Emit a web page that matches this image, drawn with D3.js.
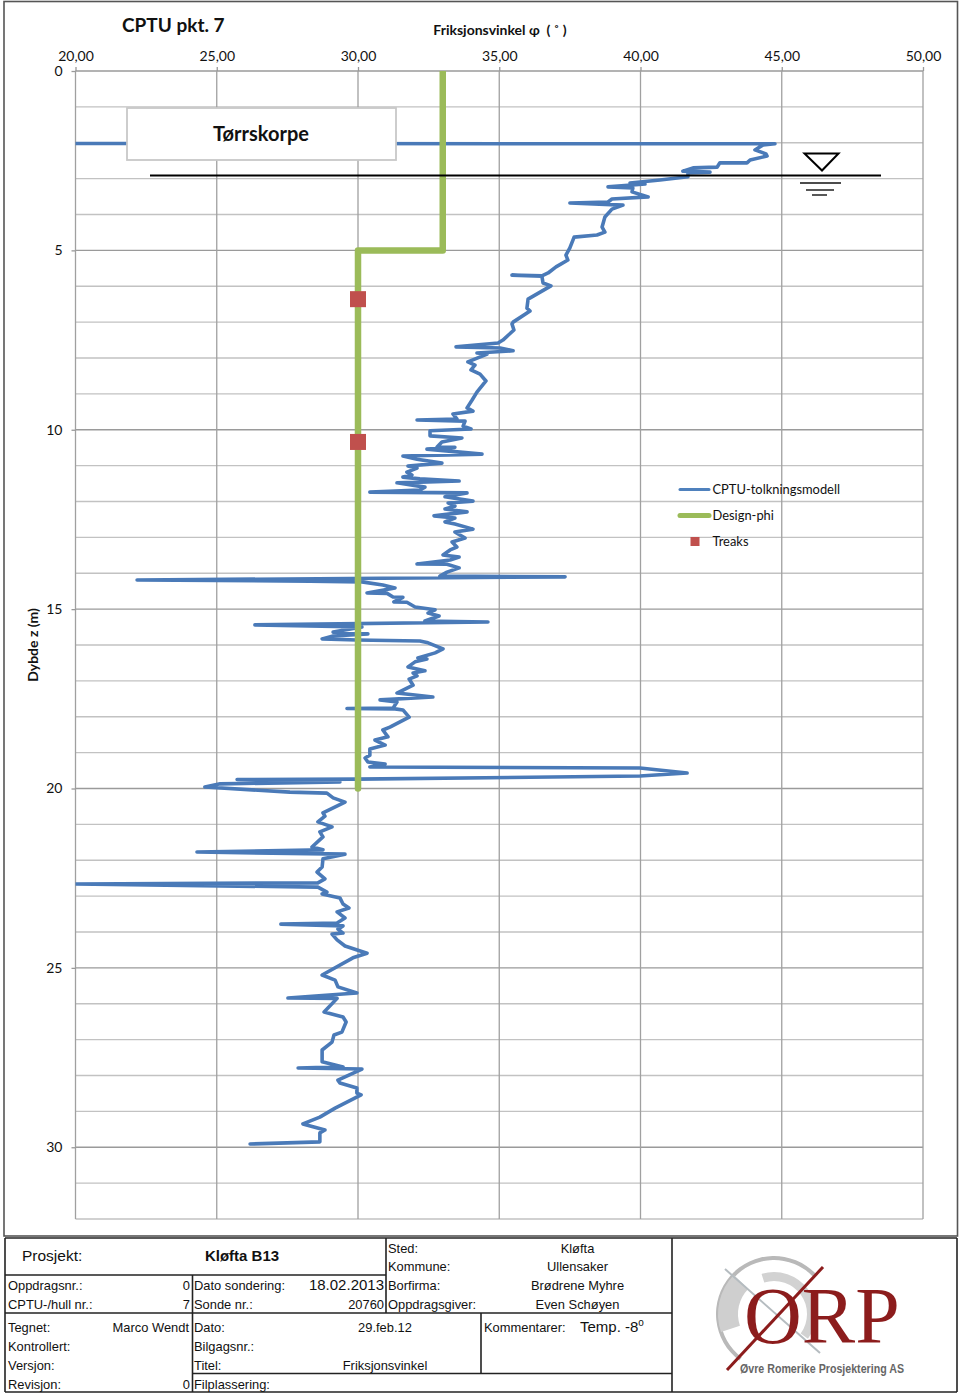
<!DOCTYPE html>
<html><head><meta charset="utf-8">
<script src="https://cdn.jsdelivr.net/npm/d3@7"></script>
<style>html,body{margin:0;padding:0;background:#fff}svg{display:block}</style>
</head><body><div id="c"></div>
<script>
const phiTicks=[20,25,30,35,40,45,50];
const depthTicks=[0,5,10,15,20,25,30];
const depthGrid=[0,1,2,3,4,5,6,7,8,9,10,11,12,13,14,15,16,17,18,19,20,21,22,23,24,25,26,27,28,29,30,31,32];
const cptuPhi=[20.00,44.76,44.34,44.05,44.44,44.48,43.88,43.77,42.81,42.71,41.86,41.50,42.46,41.68,41.68,40.69,39.63,40.16,38.85,39.73,39.70,40.27,38.99,38.85,37.50,39.38,38.99,38.74,38.64,38.74,38.46,37.65,37.50,37.36,37.43,37.01,36.73,36.51,35.45,36.51,36.55,36.83,36.02,35.98,36.09,35.49,35.45,35.52,35.13,34.96,33.47,35.03,35.49,34.21,34.57,33.89,34.14,34.00,34.32,34.53,34.21,34.04,33.86,34.07,33.36,33.50,32.09,33.79,33.72,34.00,32.55,32.55,33.68,32.97,32.80,33.43,32.44,34.39,31.59,32.09,32.97,31.77,32.09,31.73,31.91,31.59,32.19,33.58,31.38,32.37,32.19,30.42,33.86,33.08,34.07,33.19,33.43,33.08,33.86,32.69,33.43,33.08,33.43,34.07,33.43,33.79,33.33,33.50,33.26,33.01,33.58,33.26,32.09,33.15,33.58,33.15,32.90,37.33,22.18,28.30,30.14,30.88,31.31,30.32,31.03,31.24,31.59,31.27,31.73,32.02,32.73,32.48,32.87,32.37,34.60,26.35,30.14,29.12,30.35,29.12,28.73,29.96,32.19,32.48,33.01,32.73,32.12,32.44,32.02,31.77,32.37,31.95,32.09,31.81,31.95,31.38,32.65,30.78,31.38,31.24,29.61,31.31,31.59,31.81,31.13,30.88,31.06,30.60,30.96,30.42,30.42,30.25,30.35,30.96,30.42,39.98,41.65,39.98,29.96,25.72,29.36,25.12,24.58,27.59,28.90,29.12,29.54,28.76,28.83,28.58,29.08,28.65,28.76,28.37,28.76,24.30,29.54,28.76,28.73,28.55,28.83,28.58,20.00,28.58,28.90,28.73,29.36,29.47,29.68,29.26,29.54,29.26,27.27,29.47,29.29,29.47,29.08,29.26,29.54,30.32,29.82,28.73,29.19,29.29,29.96,27.52,29.26,28.80,29.47,29.58,29.43,29.15,29.08,28.73,28.73,29.47,27.88,30.14,29.29,29.36,29.96,29.96,30.11,29.19,28.65,28.05,28.83,28.65,28.65,26.18];
const cptuDepth=[2.02,2.03,2.06,2.20,2.31,2.37,2.48,2.56,2.56,2.68,2.70,2.79,2.82,2.84,2.95,3.04,3.12,3.15,3.23,3.26,3.37,3.51,3.57,3.65,3.68,3.74,3.85,4.07,4.35,4.49,4.57,4.63,4.93,5.13,5.27,5.46,5.63,5.71,5.69,5.72,5.91,5.99,6.36,6.61,6.69,7.00,7.05,7.22,7.50,7.58,7.69,7.72,7.80,7.86,7.89,8.11,8.20,8.33,8.45,8.64,8.95,9.17,9.39,9.48,9.56,9.70,9.73,9.76,9.90,9.98,10.03,10.17,10.23,10.34,10.48,10.49,10.54,10.68,10.73,10.82,10.93,11.01,11.07,11.18,11.26,11.32,11.37,11.43,11.48,11.60,11.68,11.74,11.76,11.87,11.99,12.04,12.13,12.21,12.29,12.40,12.46,12.57,12.63,12.77,12.85,13.02,13.13,13.27,13.35,13.49,13.55,13.63,13.74,13.75,13.85,13.97,14.08,14.10,14.19,14.22,14.24,14.33,14.41,14.55,14.56,14.66,14.67,14.80,14.81,14.94,15.02,15.11,15.19,15.33,15.36,15.44,15.50,15.64,15.69,15.75,15.83,15.86,15.89,15.94,16.11,16.22,16.36,16.39,16.47,16.61,16.72,16.78,16.86,16.95,17.12,17.34,17.45,17.53,17.59,17.76,17.77,17.78,17.81,18.01,18.29,18.37,18.56,18.65,18.79,18.90,19.07,19.15,19.26,19.32,19.40,19.43,19.57,19.65,19.74,19.75,19.82,19.87,19.96,20.10,20.13,20.26,20.38,20.68,20.77,20.93,21.07,21.21,21.35,21.63,21.71,21.77,21.83,21.96,22.19,22.33,22.52,22.63,22.66,22.75,22.89,22.94,23.05,23.22,23.33,23.44,23.61,23.75,23.78,23.83,23.92,24.03,24.06,24.22,24.39,24.59,24.72,25.20,25.34,25.53,25.70,25.84,25.85,26.23,26.37,26.51,26.79,26.87,27.07,27.29,27.62,27.76,27.79,27.82,28.13,28.21,28.35,28.49,28.54,28.91,29.16,29.35,29.52,29.60,29.85,29.91];
const designPhi=[33,33,30,30];
const designDepth=[0,5,5,20];
const treaksPhi=[30,30];
const treaksDepth=[6.36,10.34];
const legendLabels=["CPTU-tolkningsmodell","Design-phi","Treaks"];
const chartTitle="CPTU pkt. 7", xTitle="Friksjonsvinkel φ  ( ˚ )", yTitle="Dybde z (m)", zoneLabel="Tørrskorpe";

const W=960,H=1395;
const svg=d3.select("#c").append("svg").attr("width",W).attr("height",H).attr("viewBox",`0 0 ${W} ${H}`);
const x=d3.scaleLinear().domain([20,50]).range([75.5,923]);
const y=d3.scaleLinear().domain([0,32]).range([71,1219]);
const sans="Lato, 'Open Sans', sans-serif", arial="'Liberation Sans', Arial, sans-serif";

svg.append("defs").append("clipPath").attr("id","plot").append("rect").attr("x",x(20)).attr("y",y(0)).attr("width",x(50)-x(20)).attr("height",y(32)-y(0));

svg.append("rect").attr("x",4).attr("y",1.5).attr("width",953.5).attr("height",1234.5).attr("fill","#fff").attr("stroke","#555").attr("stroke-width",1.6);

// grid
svg.append("g").selectAll("line").data(depthGrid).join("line")
 .attr("x1",x(20)).attr("x2",x(50)).attr("y1",d=>y(d)).attr("y2",d=>y(d))
 .attr("stroke",d=>d%5===0?"#9a9a9a":"#c2c2c2").attr("stroke-width",1.4);
svg.append("g").selectAll("line").data(phiTicks).join("line")
 .attr("x1",d=>x(d)).attr("x2",d=>x(d)).attr("y1",y(0)).attr("y2",y(32))
 .attr("stroke","#a0a0a0").attr("stroke-width",1.3);

// axes
const fmt=d=>d3.format(".2f")(d).replace(".",",");
const gx=svg.append("g").attr("transform",`translate(0,${y(0)})`).call(d3.axisTop(x).tickValues(phiTicks).tickFormat(fmt).tickSize(4).tickPadding(6));
const gy=svg.append("g").attr("transform",`translate(${x(20)},0)`).call(d3.axisLeft(y).tickValues(depthTicks).tickFormat(d=>d).tickSize(4).tickPadding(9));
[gx,gy].forEach(g=>{g.select(".domain").remove();g.selectAll(".tick line").attr("stroke","#999").attr("stroke-width",1.3);
 g.selectAll("text").attr("font-family",sans).attr("font-size",14).attr("fill","#111");});

// series
const line=d3.line().x(d=>x(d[0])).y(d=>y(d[1]));
svg.append("path").attr("clip-path","url(#plot)").attr("d",line(d3.zip(cptuPhi,cptuDepth))).attr("fill","none").attr("stroke","#4a7ab8").attr("stroke-width",3.6).attr("stroke-linejoin","round").attr("stroke-linecap","round");
svg.append("path").attr("clip-path","url(#plot)").attr("d",line(d3.zip(designPhi,designDepth))).attr("fill","none").attr("stroke","#9bbb59").attr("stroke-width",6.5).attr("stroke-linejoin","round").attr("stroke-linecap","round");
svg.append("g").selectAll("rect").data(d3.zip(treaksPhi,treaksDepth)).join("rect")
 .attr("x",d=>x(d[0])-8).attr("y",d=>y(d[1])-8).attr("width",16).attr("height",16).attr("fill","#c0504d");

// zone box
svg.append("rect").attr("x",127).attr("y",108).attr("width",269).attr("height",52).attr("fill","#fff").attr("stroke","#c8c8c8").attr("stroke-width",1.8);
svg.append("text").attr("x",261).attr("y",141).attr("text-anchor","middle").attr("font-family",sans).attr("font-weight",700).attr("font-size",20).attr("fill","#111").text(zoneLabel);

// water table symbol
svg.append("line").attr("x1",150).attr("x2",881).attr("y1",175.5).attr("y2",175.5).attr("stroke","#000").attr("stroke-width",2.2);
svg.append("path").attr("d","M804.5,153.5H838.5L822,170.5Z").attr("fill","#fff").attr("stroke","#000").attr("stroke-width",2);
[[800,841,183],[806,834,190],[812,827,195]].forEach(a=>svg.append("line").attr("x1",a[0]).attr("x2",a[1]).attr("y1",a[2]).attr("y2",a[2]).attr("stroke","#111").attr("stroke-width",1.4));

// titles
svg.append("text").attr("x",122).attr("y",32).attr("font-family",sans).attr("font-weight",700).attr("font-size",19).attr("fill","#111").text(chartTitle);
svg.append("text").attr("x",500).attr("y",35).attr("text-anchor","middle").attr("font-family",sans).attr("font-weight",700).attr("font-size",14).attr("fill","#111").attr("xml:space","preserve").text(xTitle);
svg.append("text").attr("transform","translate(38,645) rotate(-90)").attr("text-anchor","middle").attr("font-family",sans).attr("font-weight",700).attr("font-size",14).attr("fill","#111").text(yTitle);

// legend
const legY=[489,515,541];
legendLabels.forEach((t,i)=>svg.append("text").attr("x",712.5).attr("y",legY[i]+5).attr("font-family",sans).attr("font-size",12.9).attr("fill","#111").text(t));
svg.append("line").attr("x1",680).attr("x2",709).attr("y1",489.5).attr("y2",489.5).attr("stroke","#4f81bd").attr("stroke-width",3).attr("stroke-linecap","round");
svg.append("line").attr("x1",680).attr("x2",709).attr("y1",515.5).attr("y2",515.5).attr("stroke","#9bbb59").attr("stroke-width",5).attr("stroke-linecap","round");
svg.append("rect").attr("x",690.5).attr("y",537).attr("width",9).attr("height",9).attr("fill","#c0504d");

// table
const rules=[[5,1238,957,1238],[5,1392,957,1392],[5,1238,5,1392],[957,1238,957,1392],[672,1238,672,1392],[386,1238,386,1313],[192.5,1275,192.5,1392],[481,1313,481,1373.5],[5,1275,386,1275],[5,1313,672,1313],[192.5,1373.5,672,1373.5]];
svg.append("g").selectAll("line").data(rules).join("line").attr("x1",d=>d[0]).attr("y1",d=>d[1]).attr("x2",d=>d[2]).attr("y2",d=>d[3]).attr("stroke","#222").attr("stroke-width",1.6);
const rows=[
 ["Prosjekt:",22,1261,"start",15.5],["Kløfta B13",242,1261,"middle",15,700],
 ["Sted:",388,1253],["Kommune:",388,1271],["Borfirma:",388,1290],["Oppdragsgiver:",388,1309],
 ["Kløfta",577.5,1253,"middle"],["Ullensaker",577.5,1271,"middle"],["Brødrene Myhre",577.5,1290,"middle"],["Even Schøyen",577.5,1309,"middle"],
 ["Oppdragsnr.:",8,1290],["0",190,1290,"end"],["CPTU-/hull nr.:",8,1309],["7",190,1309,"end"],
 ["Dato sondering:",194,1290],["18.02.2013",384,1290,"end",15],["Sonde nr.:",194,1309],["20760",384,1309,"end"],
 ["Tegnet:",8,1332],["Marco Wendt",189,1332,"end"],["Kontrollert:",8,1351],["Versjon:",8,1370],["Revisjon:",8,1389],["0",190,1389,"end"],
 ["Dato:",194,1332],["29.feb.12",385,1332,"middle"],["Bilgagsnr.:",194,1351],["Titel:",194,1370],["Friksjonsvinkel",385,1370,"middle"],["Filplassering:",194,1389],
 ["Kommentarer:",484,1332]];
svg.append("g").attr("font-family",arial).attr("fill","#111").selectAll("text").data(rows).join("text")
 .attr("x",d=>d[1]).attr("y",d=>d[2]).attr("text-anchor",d=>d[3]||"start").attr("font-size",d=>d[4]||12.9).attr("font-weight",d=>d[5]||400).text(d=>d[0]);
const temp=svg.append("text").attr("x",580).attr("y",1332).attr("font-family",arial).attr("font-size",15).attr("fill","#111").text("Temp. -8");
temp.append("tspan").attr("dy",-6).attr("font-size",10).text("o");

// logo
const logo=svg.append("g").attr("fill","none");
const arc=d3.arc();
const lc=[774,1314];
logo.append("path").attr("transform",`translate(${lc})`).attr("d",arc({innerRadius:54,outerRadius:58,startAngle:-2.5,endAngle:0.8})).attr("fill","#b9b9b9");
logo.append("path").attr("transform",`translate(${lc})`).attr("d",arc({innerRadius:36,outerRadius:56,startAngle:-1.9,endAngle:-0.8})).attr("fill","#cfcfcf");
logo.append("path").attr("transform",`translate(${lc})`).attr("d",arc({innerRadius:33,outerRadius:42,startAngle:-0.3,endAngle:2.2})).attr("fill","#d2d2d2");
logo.append("line").attr("x1",725).attr("y1",1269).attr("x2",820).attr("y2",1353).attr("stroke","#b5bcc0").attr("stroke-width",2);
logo.append("text").attr("x",744).attr("y",1343).attr("font-family","'Liberation Serif',serif").attr("font-size",80).attr("fill","#8c1c1c").attr("stroke","none").text("ORP");
logo.append("line").attr("x1",727).attr("y1",1370).attr("x2",823).attr("y2",1267).attr("stroke","#8c1c1c").attr("stroke-width",3);
logo.append("text").attr("x",740).attr("y",1373).attr("font-family","'Liberation Sans Narrow','Liberation Sans',sans-serif").attr("font-size",12.5).attr("font-weight",700).attr("textLength",164).attr("lengthAdjust","spacingAndGlyphs").attr("fill","#666").attr("stroke","none").text("Øvre Romerike Prosjektering AS");
</script></body></html>
